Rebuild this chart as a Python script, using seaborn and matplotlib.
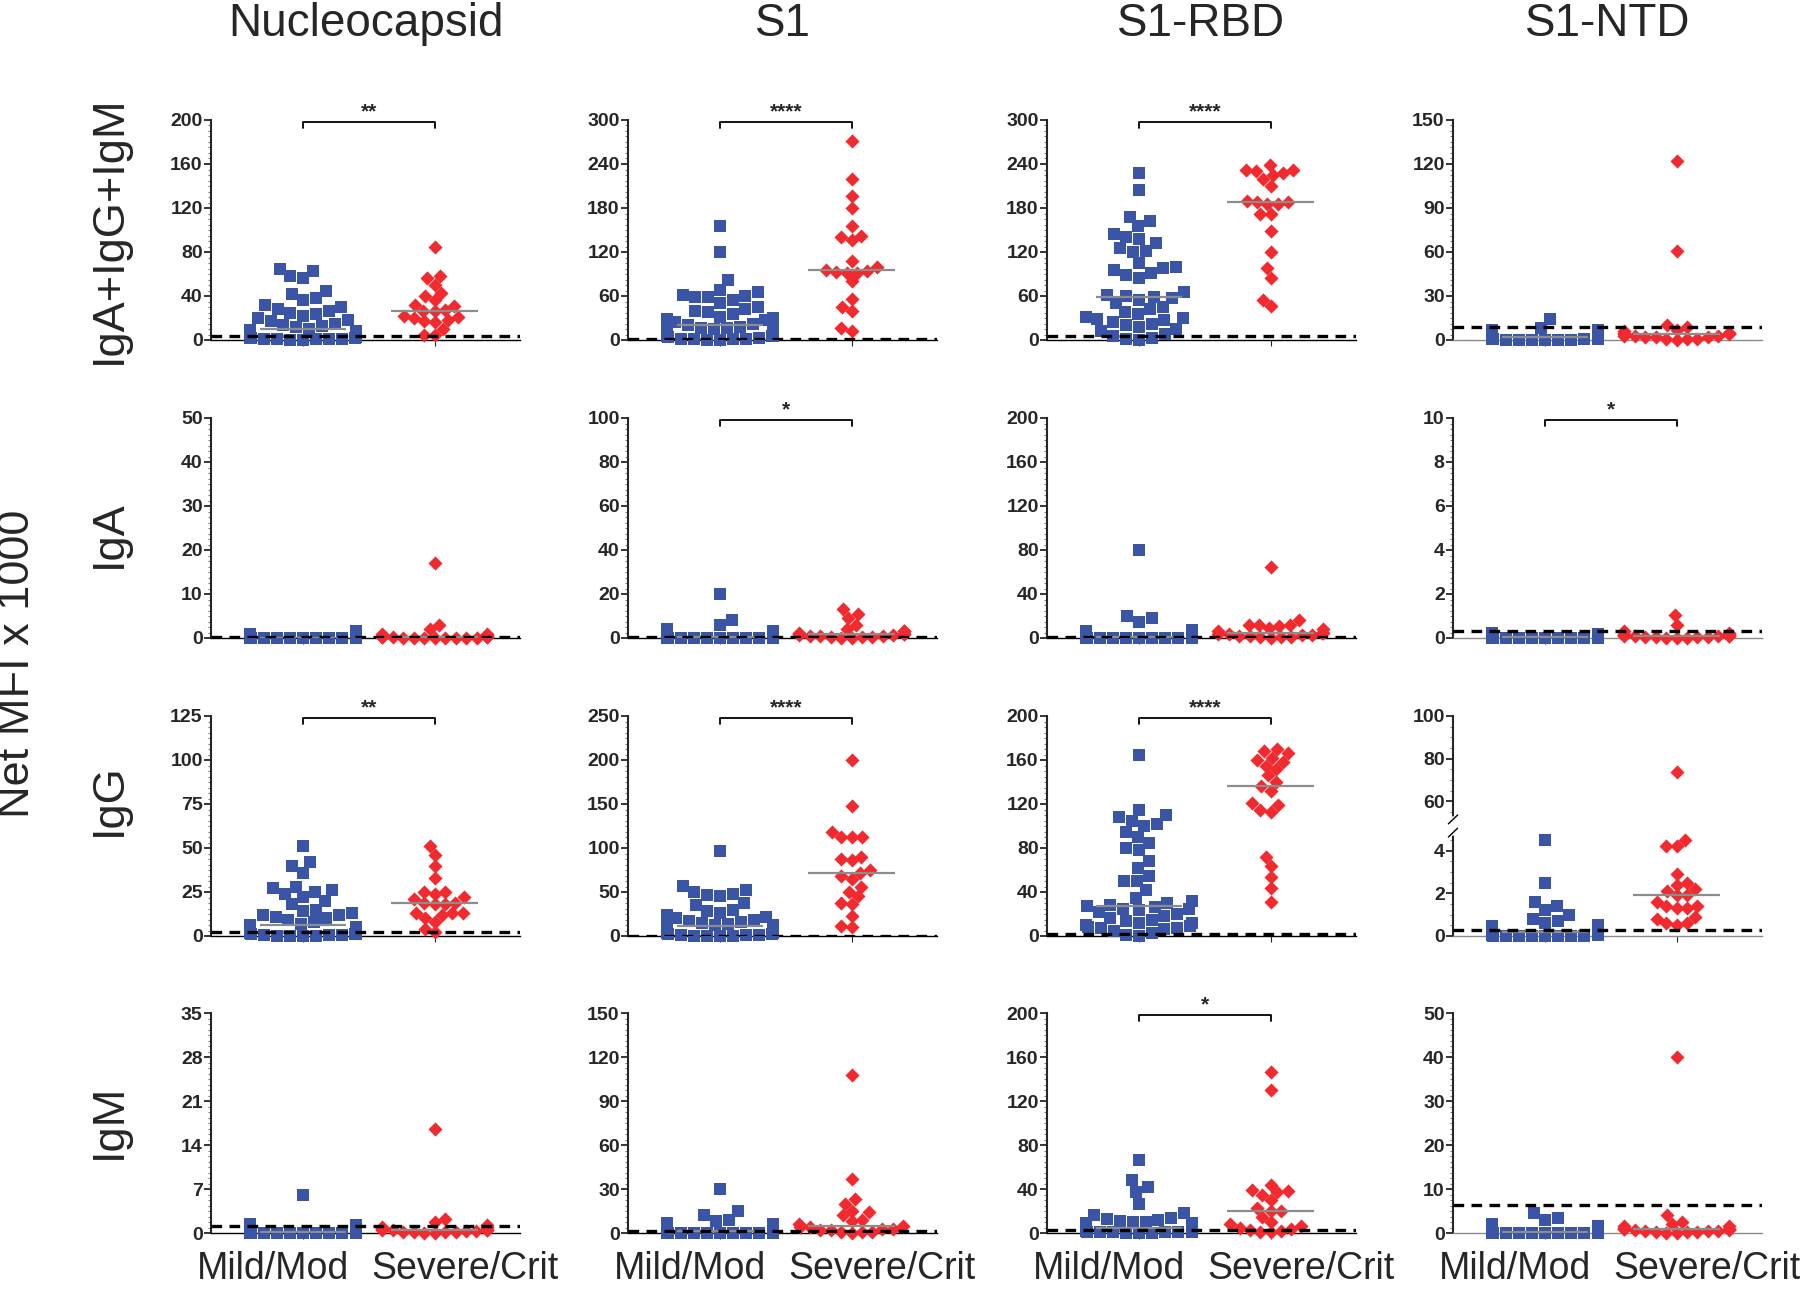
import warnings
import numpy as np
import pandas as pd
import matplotlib
matplotlib.use("Agg")
import matplotlib.pyplot as plt
import seaborn as sns
from matplotlib.ticker import AutoMinorLocator, FixedLocator
from matplotlib.transforms import ScaledTranslation

warnings.filterwarnings("ignore")

sns.set_style("ticks")
plt.rcParams['font.family'] = ['Liberation Sans', 'DejaVu Sans']
plt.rcParams['font.weight'] = 'bold'   # tick numbers are bold in the original

# ---------------------------------------------------------------------------
# data (Net MFI x 1000)
# ---------------------------------------------------------------------------
antigens = ["Nucleocapsid", "S1", "S1-RBD", "S1-NTD"]
isotypes = ["IgA+IgG+IgM", "IgA", "IgG", "IgM"]
groups = ["Mild/Mod", "Severe/Crit"]

# IgA+IgG+IgM
tot_nuc_mild = [65, 63, 58, 56, 45, 42, 38, 36, 32, 30, 28, 26, 25, 24, 22, 20, 18, 17, 15, 14, 13, 12, 10,
                9, 8, 7, 6, 6, 5, 5, 4, 4, 3, 3, 3, 2, 2, 2, 1, 1, 1, 0.5, 0.5, 0.3, 0]
tot_nuc_sev = [85, 58, 56, 50, 43, 40, 36, 32, 31, 27, 26, 26, 22, 21, 20, 18, 17, 16, 10, 5, 5]
tot_s1_mild = [155, 120, 82, 68, 65, 62, 60, 58, 58, 55, 50, 45, 42, 40, 38, 35, 32, 30, 28, 27, 25, 22, 20,
               18, 17, 16, 15, 14, 12, 11, 10, 9, 8, 7, 6, 5, 5, 4, 3, 2, 2, 1, 1, 0.5, 0]
tot_s1_sev = [272, 220, 197, 180, 155, 142, 140, 137, 108, 100, 96, 94, 93, 92, 92, 80, 56, 45, 40, 16, 12]
tot_rbd_mild = [228, 205, 168, 162, 155, 145, 140, 138, 132, 125, 122, 120, 105, 100, 98, 95, 92, 88, 85, 65,
                62, 60, 58, 57, 55, 50, 45, 42, 38, 35, 32, 30, 28, 27, 25, 22, 20, 18, 15, 12, 8, 5, 3, 1, 0]
tot_rbd_sev = [238, 232, 232, 230, 228, 225, 220, 210, 190, 188, 188, 186, 185, 172, 172, 148, 120, 98, 85,
               55, 46]
tot_ntd_mild = [14, 8, 7, 7, 6, 6, 5, 5, 5, 4, 4, 4, 4, 3, 3, 3, 3, 3, 2, 2, 2, 2, 2, 2, 2, 1.5, 1.5, 1.5,
                1, 1, 1, 1, 1, 1, 0.8, 0.8, 0.5, 0.5, 0.5, 0.3, 0.3, 0.2, 0.1, 0, 0]
tot_ntd_sev = [122, 61, 10, 9, 7, 6, 5, 5, 5, 4, 4, 3, 3, 3, 2, 2, 2, 1, 1, 0.5, 0]

# IgA
iga_nuc_mild = [1.5, 1.0, 0.9, 0.8, 0.7, 0.6, 0.6, 0.5, 0.5, 0.4, 0.4, 0.4, 0.3, 0.3, 0.3, 0.3, 0.2, 0.2,
                0.2, 0.2, 0.2, 0.1, 0.1, 0.1, 0.1, 0.1, 0.1, 0.1, 0.05, 0.05, 0.05, 0.05, 0.05,
                0, 0, 0, 0, 0, 0, 0, 0, 0, 0, 0, 0]
iga_nuc_sev = [17, 3, 2, 1, 0.8, 0.6, 0.5, 0.4, 0.3, 0.3, 0.2, 0.2, 0.2, 0.1, 0.1, 0.1, 0.1, 0.05, 0, 0, 0]
iga_s1_mild = [20, 8, 6, 4, 3, 2.5, 2, 2, 1.5, 1.5, 1, 1, 1, 0.8, 0.8, 0.6, 0.6, 0.5, 0.5, 0.4, 0.4, 0.3,
               0.3, 0.3, 0.2, 0.2, 0.2, 0.2, 0.1, 0.1, 0.1, 0.1, 0.1, 0.05, 0.05, 0.05,
               0, 0, 0, 0, 0, 0, 0, 0, 0]
iga_s1_sev = [13, 11, 9, 6, 4, 3, 3, 2.5, 2, 2, 2, 1.5, 1.5, 1, 1, 1, 0.5, 0.5, 0.3, 0.2, 0]
iga_rbd_mild = [80, 20, 18, 15, 7, 6, 5, 5, 4, 4, 3, 3, 3, 2.5, 2.5, 2, 2, 2, 1.5, 1.5, 1.5, 1, 1, 1, 1,
                0.8, 0.8, 0.5, 0.5, 0.5, 0.4, 0.3, 0.3, 0.2, 0.2, 0.1, 0.1, 0.1, 0, 0, 0, 0, 0, 0, 0]
iga_rbd_sev = [65, 16, 12, 12, 12, 11, 9, 8, 6, 5, 5, 4, 4, 3, 3, 2, 2, 1, 1, 0.5, 0]
iga_ntd_mild = [0.25, 0.2, 0.2, 0.18, 0.15, 0.15, 0.12, 0.12, 0.1, 0.1, 0.1, 0.08, 0.08, 0.08, 0.06, 0.06,
                0.05, 0.05, 0.05, 0.04, 0.04, 0.03, 0.03, 0.03, 0.02, 0.02, 0.02, 0.02, 0.01, 0.01, 0.01,
                0.01, 0, 0, 0, 0, 0, 0, 0, 0, 0, 0, 0, 0, 0]
iga_ntd_sev = [1.05, 0.6, 0.3, 0.25, 0.2, 0.18, 0.15, 0.15, 0.12, 0.1, 0.1, 0.1, 0.08, 0.08, 0.06, 0.05,
               0.05, 0.03, 0.02, 0.01, 0]

# IgG
igg_nuc_mild = [51, 42, 40, 36, 28, 27, 26, 25, 24, 22, 20, 18, 15, 14, 13, 12, 12, 11, 10, 9, 8, 7, 6, 5, 5,
                4, 4, 3, 3, 3, 2, 2, 2, 1.5, 1.5, 1, 1, 1, 0.5, 0.5, 0.5, 0.2, 0.1, 0, 0]
igg_nuc_sev = [51, 46, 40, 33, 25, 25, 24, 22, 21, 19, 19, 18, 18, 13, 13, 13, 12, 10, 8, 4, 2]
igg_s1_mild = [97, 57, 52, 50, 48, 47, 46, 37, 35, 30, 28, 26, 24, 22, 20, 18, 17, 16, 15, 14, 13, 12, 11,
               10, 10, 9, 8, 8, 7, 6, 6, 5, 4, 4, 3, 3, 2, 2, 1, 1, 1, 0.5, 0.5, 0, 0]
igg_s1_sev = [200, 148, 118, 113, 113, 112, 90, 87, 86, 75, 72, 68, 65, 56, 50, 45, 37, 36, 23, 11, 10]
igg_rbd_mild = [165, 115, 110, 108, 105, 102, 100, 95, 90, 85, 80, 78, 68, 62, 55, 50, 50, 42, 35, 32, 30,
                28, 27, 26, 25, 25, 24, 22, 20, 18, 16, 15, 14, 12, 12, 10, 9, 8, 7, 7, 6, 5, 3, 1, 0]
igg_rbd_sev = [170, 168, 166, 162, 160, 158, 155, 152, 146, 140, 136, 132, 121, 119, 115, 113, 72, 64, 54,
               44, 31]
igg_ntd_mild = [4.5, 2.5, 1.6, 1.4, 1.2, 1.0, 0.8, 0.7, 0.6, 0.5, 0.45, 0.4, 0.4, 0.35, 0.3, 0.3, 0.3, 0.25,
                0.25, 0.2, 0.2, 0.2, 0.2, 0.15, 0.15, 0.15, 0.1, 0.1, 0.1, 0.1, 0.08, 0.08, 0.06, 0.05,
                0.05, 0.04, 0.03, 0.02, 0.02, 0.01, 0.01, 0, 0, 0, 0]
igg_ntd_sev = [74, 4.5, 4.2, 4.2, 2.9, 2.5, 2.4, 2.2, 2.1, 1.9, 1.9, 1.6, 1.4, 1.4, 1.3, 1.3, 0.9, 0.8, 0.6,
               0.6, 0.5]

# IgM
igm_nuc_mild = [6, 1.5, 1.2, 1.0, 1.0, 0.9, 0.8, 0.8, 0.7, 0.7, 0.6, 0.6, 0.5, 0.5, 0.5, 0.4, 0.4, 0.4, 0.3,
                0.3, 0.3, 0.3, 0.2, 0.2, 0.2, 0.2, 0.2, 0.1, 0.1, 0.1, 0.1, 0.1, 0.1, 0.05, 0.05, 0.05,
                0.05, 0, 0, 0, 0, 0, 0, 0, 0]
igm_nuc_sev = [16.5, 2.2, 1.8, 1.3, 1.0, 0.9, 0.8, 0.7, 0.6, 0.5, 0.5, 0.4, 0.4, 0.3, 0.3, 0.2, 0.2, 0.1,
               0.1, 0.05, 0]
igm_s1_mild = [30, 15, 12, 9, 8, 7, 6, 5, 5, 4, 4, 3.5, 3, 3, 3, 2.5, 2.5, 2, 2, 2, 1.5, 1.5, 1.5, 1, 1, 1,
               1, 0.8, 0.8, 0.6, 0.5, 0.5, 0.4, 0.3, 0.3, 0.2, 0.2, 0.1, 0.1, 0.1, 0, 0, 0, 0, 0]
igm_s1_sev = [108, 37, 23, 20, 15, 14, 12, 9, 8, 6, 5, 4, 4, 3, 3, 2, 2, 1, 1, 0.5, 0]
igm_rbd_mild = [66, 48, 42, 37, 26, 18, 16, 14, 13, 12, 11, 10, 10, 9, 9, 8, 8, 7, 7, 6, 6, 5, 5, 5, 4, 4,
                4, 3, 3, 3, 2.5, 2, 2, 2, 1.5, 1.5, 1, 1, 1, 0.5, 0.5, 0.5, 0.2, 0, 0]
igm_rbd_sev = [146, 130, 44, 39, 38, 37, 35, 30, 23, 20, 20, 15, 10, 8, 6, 5, 4, 3, 2, 1, 0.5]
igm_ntd_mild = [4.5, 3.5, 3, 2, 2, 1.5, 1.5, 1.2, 1, 1, 1, 0.8, 0.8, 0.7, 0.6, 0.6, 0.5, 0.5, 0.5, 0.4, 0.4,
                0.4, 0.3, 0.3, 0.3, 0.3, 0.2, 0.2, 0.2, 0.2, 0.15, 0.15, 0.1, 0.1, 0.1, 0.1, 0.05, 0.05,
                0.05, 0, 0, 0, 0, 0, 0]
igm_ntd_sev = [40, 4, 2.5, 2, 1.5, 1.5, 1.2, 1.0, 1.0, 0.8, 0.8, 0.7, 0.6, 0.5, 0.5, 0.4, 0.3, 0.3, 0.2,
               0.1, 0]

# positivity cut-offs (dashed lines)
tot_cutoff = [4, 1, 5, 9]
iga_cutoff = [0.3, 0.5, 1.0, 0.3]
igg_cutoff = [2.5, 0.5, 2, 0.3]
igm_cutoff = [1.1, 1.2, 3, 6.3]

# axis tops and tick steps
tot_ymax = [200, 300, 300, 150]
tot_ystep = [40, 60, 60, 30]
iga_ymax = [50, 100, 200, 10]
iga_ystep = [10, 20, 40, 2]
igg_ymax = [125, 250, 200, 100]
igg_ystep = [25, 50, 40, 20]
igm_ymax = [35, 150, 200, 50]
igm_ystep = [7, 30, 40, 10]

# significance
tot_stars = ["**", "****", "****", ""]
iga_stars = ["", "*", "", "*"]
igg_stars = ["**", "****", "****", ""]
igm_stars = ["", "", "*", ""]

values = [
    [(tot_nuc_mild, tot_nuc_sev), (tot_s1_mild, tot_s1_sev), (tot_rbd_mild, tot_rbd_sev), (tot_ntd_mild, tot_ntd_sev)],
    [(iga_nuc_mild, iga_nuc_sev), (iga_s1_mild, iga_s1_sev), (iga_rbd_mild, iga_rbd_sev), (iga_ntd_mild, iga_ntd_sev)],
    [(igg_nuc_mild, igg_nuc_sev), (igg_s1_mild, igg_s1_sev), (igg_rbd_mild, igg_rbd_sev), (igg_ntd_mild, igg_ntd_sev)],
    [(igm_nuc_mild, igm_nuc_sev), (igm_s1_mild, igm_s1_sev), (igm_rbd_mild, igm_rbd_sev), (igm_ntd_mild, igm_ntd_sev)],
]
cutoffs = [tot_cutoff, iga_cutoff, igg_cutoff, igm_cutoff]
ymaxs = [tot_ymax, iga_ymax, igg_ymax, igm_ymax]
ysteps = [tot_ystep, iga_ystep, igg_ystep, igm_ystep]
stars = [tot_stars, iga_stars, igg_stars, igm_stars]

blue = "#3a55a6"
red = "#f02a2e"


# broken y axis for IgG / S1-NTD (0-5 then 50-100)
def brk_fwd(y):
    y = np.asarray(y, dtype=float)
    return np.where(y <= 5, y, np.where(y <= 50, 5 + (y - 5) / 45 * 0.3, 5.3 + (y - 50) * 0.1))


def brk_inv(t):
    t = np.asarray(t, dtype=float)
    return np.where(t <= 5, t, np.where(t <= 5.3, 5 + (t - 5) / 0.3 * 45, 50 + (t - 5.3) / 0.1))


# ---------------------------------------------------------------------------
# figure
# ---------------------------------------------------------------------------
W, H = 1800, 1291
fig = plt.figure(figsize=(W / 100, H / 100), dpi=100)

col_left = [211, 628, 1047, 1453]
row_top = [120, 418, 716, 1013]
ax_w, ax_h = 309, 220

for r in range(4):
    for c in range(4):
        ax = fig.add_axes([col_left[c] / W, 1 - (row_top[r] + ax_h) / H, ax_w / W, ax_h / H])
        mild, sev = values[r][c]
        df = pd.DataFrame({
            "group": [groups[0]] * len(mild) + [groups[1]] * len(sev),
            "value": mild + sev,
        })

        sns.swarmplot(data=df[df["group"] == groups[0]], x="group", y="value", order=groups,
                      marker="s", color=blue, size=9, linewidth=0, warn_thresh=1, ax=ax)
        sns.swarmplot(data=df[df["group"] == groups[1]], x="group", y="value", order=groups,
                      marker="D", color=red, size=7.2, linewidth=0, warn_thresh=1, ax=ax)
        for coll in ax.collections:
            coll.set_clip_on(False)
            coll.set_zorder(3)

        broken = (r == 2 and c == 3)
        if broken:
            ax.set_yscale("function", functions=(brk_fwd, brk_inv))

        # medians
        for i, vals in enumerate([mild, sev]):
            ax.hlines(np.median(vals), i - 0.33, i + 0.33, color="#8c8c8c", lw=1.6, zorder=4)

        # cut-off
        ax.axhline(cutoffs[r][c], color="black", lw=2.4, dashes=(3.2, 2.2), zorder=5)

        ax.set_xlim(-0.7, 1.65)
        ax.set_ylim(0, ymaxs[r][c])
        if broken:
            ax.set_yticks([0, 2, 4, 60, 80, 100])
            ax.yaxis.set_minor_locator(FixedLocator(list(np.arange(0, 5, 0.5)) + list(np.arange(50, 101, 5))))
        else:
            ax.set_yticks(np.arange(0, ymaxs[r][c] + 0.001, ysteps[r][c]))
            ax.yaxis.set_minor_locator(AutoMinorLocator(8))
        ax.set_yticklabels([f"{t:g}" for t in ax.get_yticks()], fontweight="bold")

        ax.tick_params(axis="y", which="major", length=5, width=1.3, labelsize=14, pad=1)
        ax.tick_params(axis="y", which="minor", length=2.5, width=0.7, color="#777777")
        ax.tick_params(axis="x", which="major", length=4, width=0.8, pad=9, labelsize=27)
        ax.set_xticks([0, 1])
        ax.set_xlabel("")
        ax.set_ylabel("")

        sns.despine(ax=ax)
        ax.spines["left"].set_linewidth(1.5)
        ax.spines["bottom"].set_linewidth(1.0)
        ax.spines["bottom"].set_color("#8a8a8a" if c == 3 else "black")

        if r == 3:
            ax.set_xticklabels(groups, fontweight="normal")
            labs = ax.get_xticklabels()
            labs[0].set_transform(labs[0].get_transform() + ScaledTranslation(-0.3, 0, fig.dpi_scale_trans))
            labs[1].set_transform(labs[1].get_transform() + ScaledTranslation(0.3, 0, fig.dpi_scale_trans))
        else:
            ax.set_xticklabels(["", ""])

        if broken:
            ax.plot([0, 0], [0.47, 0.53], transform=ax.transAxes, color="white", lw=4,
                    clip_on=False, zorder=10)
            for yb in (0.47, 0.53):
                ax.plot([-0.015, 0.015], [yb - 0.02, yb + 0.02], transform=ax.transAxes,
                        color="black", lw=1, clip_on=False, zorder=11)

        # significance bracket
        if stars[r][c]:
            tr = ax.get_xaxis_transform()
            ax.plot([0, 0, 1, 1], [0.965, 0.99, 0.99, 0.965], transform=tr, color="black",
                    lw=1.3, clip_on=False)
            ax.text(0.5, 0.995, stars[r][c], transform=tr, ha="center", va="bottom",
                    fontsize=15, fontweight="bold")

# column titles
for c, ag in enumerate(antigens):
    fig.text((col_left[c] + ax_w / 2) / W, 1 - 24 / H, ag, ha="center", va="center",
             fontsize=33, fontweight="normal")

# row labels
row_label_y = [230, 534, 800, 1121]
for r, iso in enumerate(isotypes):
    fig.text(109 / W, 1 - row_label_y[r] / H, iso, ha="center", va="center", rotation=90,
             fontsize=32.5, fontweight="normal")

fig.text(18 / W, 1 - 664 / H, "Net MFI x 1000", ha="center", va="center", rotation=90,
         fontsize=32.5, fontweight="normal")

fig.savefig("out.png", dpi=100)
